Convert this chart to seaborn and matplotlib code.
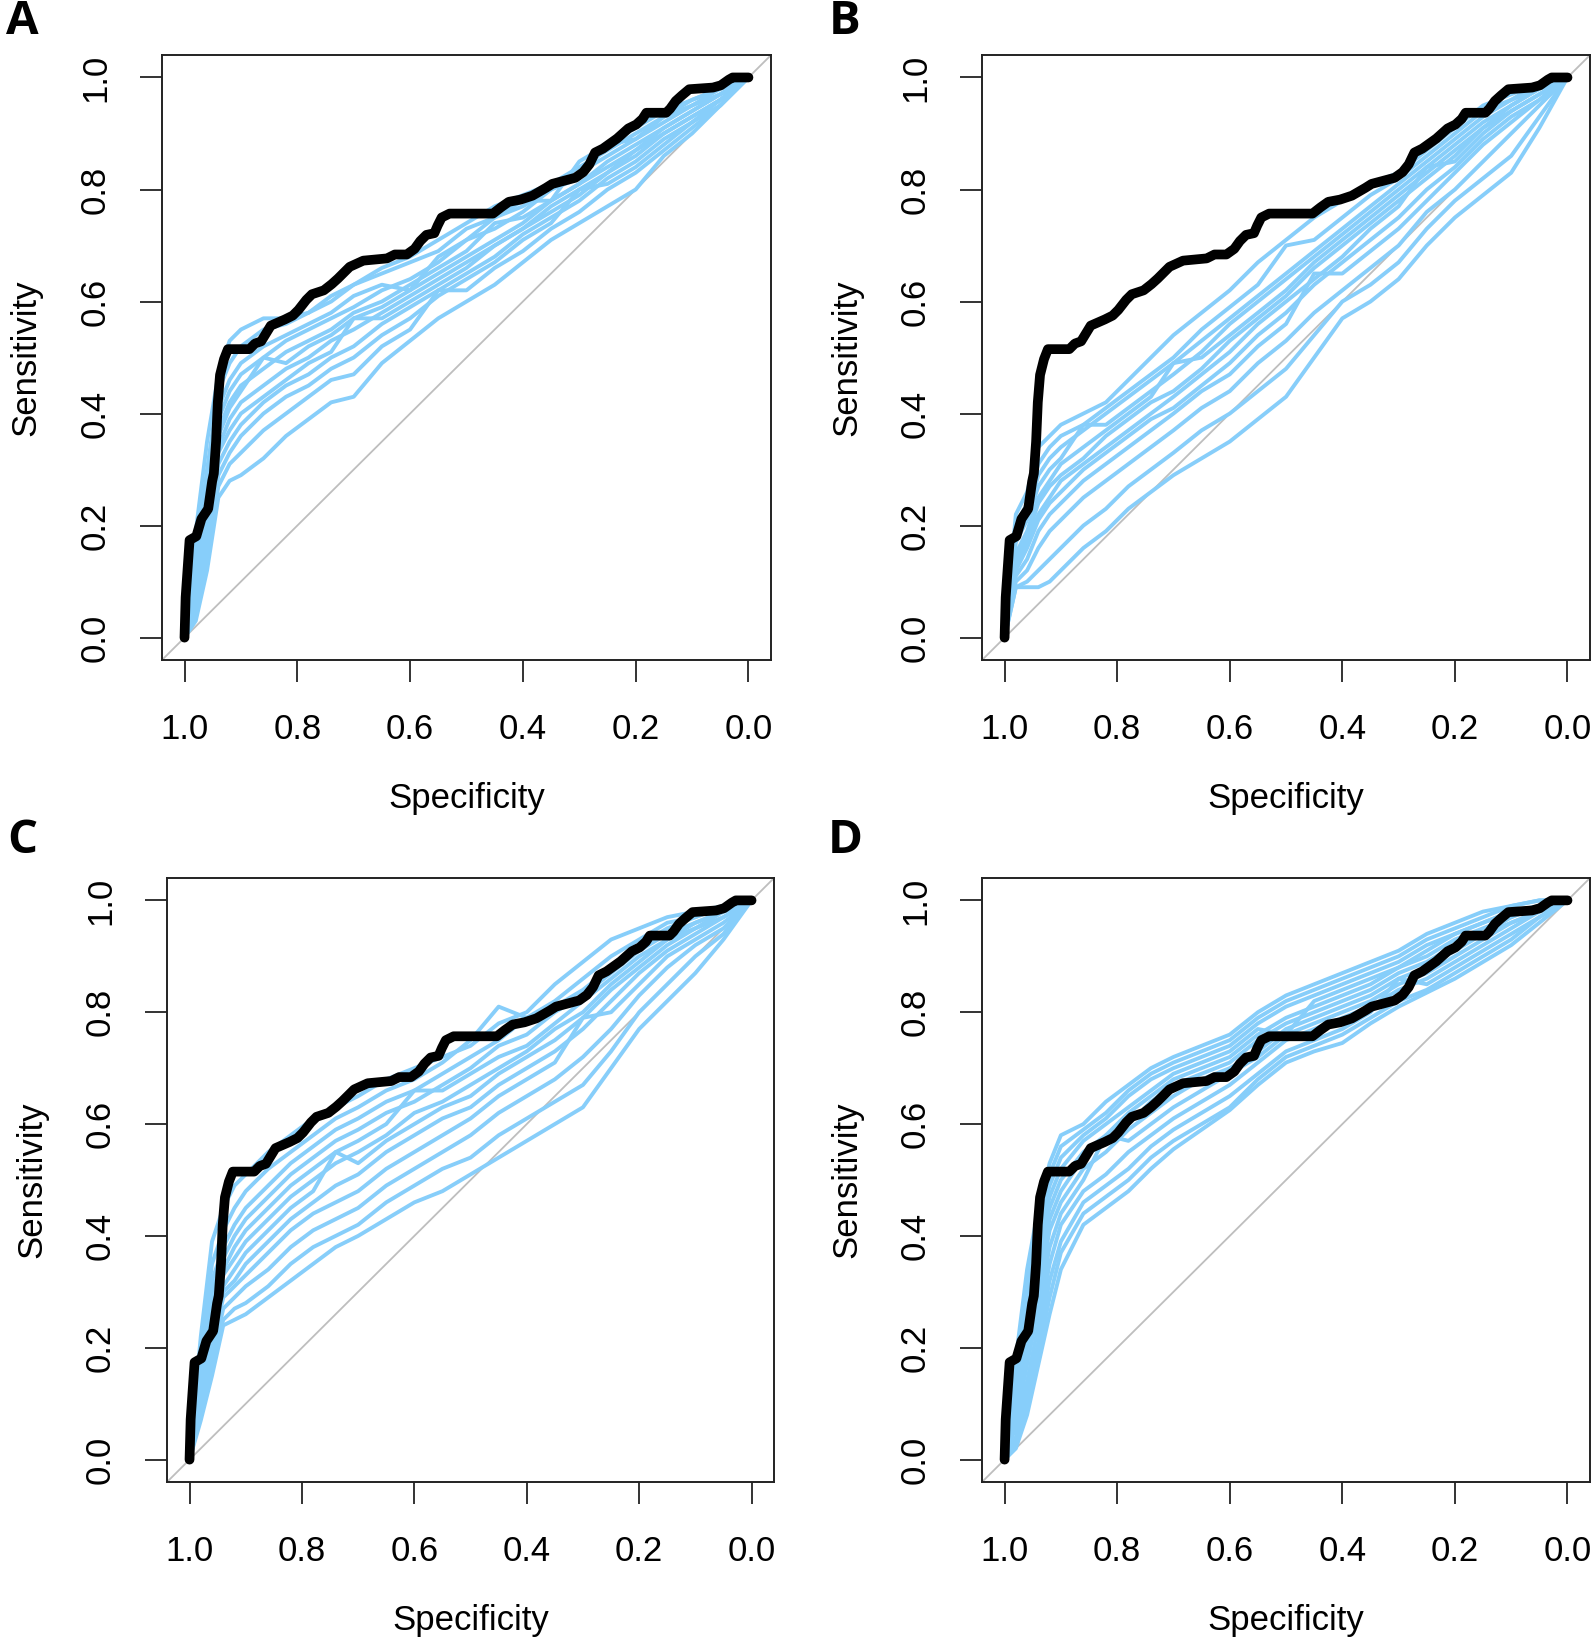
# ROC curves: original model (black) vs. permuted/resampled models (light blue), 4 panels
import numpy as np
import pandas as pd
import seaborn as sns
import matplotlib
matplotlib.use("Agg")
import matplotlib.pyplot as plt

sns.set_style("ticks")
plt.rcParams['font.family'] = ['Liberation Sans', 'DejaVu Sans']
for k in ["text.color", "axes.labelcolor", "xtick.color", "ytick.color"]:
    plt.rcParams[k] = "black"

# ----------------------
# data
# ----------------------
# black curve, same in every panel
orig_spec = [1.0, 0.998, 0.991, 0.979, 0.970, 0.958, 0.951, 0.948, 0.944, 0.941, 0.937, 0.930,
             0.923, 0.885, 0.875, 0.864, 0.847, 0.822, 0.808, 0.798, 0.784, 0.774, 0.753, 0.739,
             0.728, 0.707, 0.683, 0.641, 0.627, 0.606, 0.592, 0.582, 0.571, 0.557, 0.551, 0.544,
             0.530, 0.453, 0.439, 0.425, 0.404, 0.383, 0.359, 0.348, 0.307, 0.293, 0.282, 0.272,
             0.258, 0.233, 0.213, 0.199, 0.188, 0.181, 0.146, 0.139, 0.129, 0.118, 0.105, 0.063,
             0.049, 0.035, 0.028, 0.0]
orig_sens = [0.0, 0.072, 0.174, 0.181, 0.212, 0.230, 0.279, 0.293, 0.350, 0.420, 0.469, 0.497,
             0.515, 0.515, 0.525, 0.529, 0.557, 0.568, 0.575, 0.585, 0.603, 0.613, 0.620, 0.631,
             0.641, 0.662, 0.673, 0.677, 0.684, 0.684, 0.694, 0.708, 0.719, 0.722, 0.736, 0.750,
             0.757, 0.757, 0.768, 0.778, 0.782, 0.789, 0.803, 0.810, 0.821, 0.831, 0.845, 0.866,
             0.873, 0.891, 0.909, 0.916, 0.926, 0.937, 0.937, 0.944, 0.958, 0.968, 0.979, 0.982,
             0.986, 0.996, 1.0, 1.0]

# specificity points at which the blue curves were read
grid_spec = [1.0, .98, .96, .94, .92, .9, .86, .82, .78, .74, .7, .65, .6, .55, .5, .45, .4,
             .35, .3, .25, .2, .15, .1, .05, 0.0]

sens_A = [
    [0, .19, .35, .47, .53, .55, .57, .57, .58, .61, .63, .66, .68, .71, .74, .77, .79, .81, .84, .87, .90, .93, .96, .98, 1],
    [0, .15, .30, .44, .49, .52, .55, .56, .58, .60, .63, .65, .67, .69, .73, .75, .78, .78, .85, .88, .91, .94, .96, .98, 1],
    [0, .12, .27, .41, .46, .49, .52, .54, .56, .58, .61, .63, .62, .68, .71, .75, .77, .80, .83, .86, .89, .92, .95, .98, 1],
    [0, .10, .24, .39, .44, .47, .50, .53, .55, .57, .59, .62, .64, .67, .71, .73, .76, .80, .82, .88, .89, .93, .95, .97, 1],
    [0, .09, .22, .37, .42, .45, .48, .51, .53, .55, .58, .60, .63, .66, .69, .74, .75, .78, .81, .85, .88, .91, .94, .97, 1],
    [0, .08, .20, .36, .41, .44, .50, .49, .52, .54, .57, .59, .62, .65, .68, .71, .74, .78, .81, .84, .87, .91, .94, .97, 1],
    [0, .07, .18, .34, .39, .42, .45, .48, .50, .53, .55, .58, .61, .64, .67, .70, .73, .77, .80, .83, .87, .90, .93, .96, 1],
    [0, .06, .17, .33, .37, .40, .43, .46, .49, .51, .57, .57, .60, .63, .66, .70, .73, .76, .79, .83, .86, .90, .93, .96, 1],
    [0, .05, .16, .31, .35, .38, .42, .45, .47, .50, .52, .56, .59, .62, .65, .68, .72, .75, .78, .82, .85, .89, .92, .96, 1],
    [0, .05, .15, .29, .33, .36, .40, .43, .45, .48, .50, .54, .57, .61, .64, .67, .71, .74, .80, .81, .84, .88, .92, .95, 1],
    [0, .04, .14, .27, .31, .33, .37, .40, .43, .46, .47, .52, .55, .62, .62, .66, .69, .73, .76, .80, .83, .87, .91, .95, 1],
    [0, .03, .12, .25, .28, .29, .32, .36, .39, .42, .43, .49, .53, .57, .60, .63, .67, .71, .74, .77, .80, .86, .90, .95, 1],
]
sens_B = [
    [0, .22, .26, .34, .36, .38, .40, .42, .46, .50, .54, .58, .62, .67, .71, .75, .78, .81, .83, .87, .91, .95, .97, .99, 1],
    [0, .20, .24, .31, .34, .36, .38, .41, .44, .47, .50, .55, .59, .63, .70, .71, .75, .79, .82, .86, .90, .94, .96, .99, 1],
    [0, .18, .22, .29, .32, .34, .37, .40, .43, .46, .49, .53, .57, .61, .65, .69, .73, .77, .81, .85, .89, .93, .96, .98, 1],
    [0, .17, .21, .27, .30, .32, .38, .38, .41, .44, .47, .51, .56, .60, .64, .68, .72, .76, .80, .84, .88, .92, .95, .98, 1],
    [0, .15, .19, .25, .28, .31, .34, .37, .40, .43, .49, .50, .54, .58, .62, .67, .71, .75, .79, .83, .87, .91, .95, .98, 1],
    [0, .14, .18, .24, .27, .29, .32, .36, .39, .42, .44, .48, .53, .57, .61, .66, .70, .74, .78, .82, .86, .91, .94, .97, 1],
    [0, .13, .17, .22, .25, .28, .31, .34, .37, .40, .43, .47, .51, .56, .60, .64, .68, .73, .77, .84, .85, .90, .94, .97, 1],
    [0, .12, .16, .21, .24, .26, .30, .33, .36, .39, .41, .45, .49, .54, .58, .63, .67, .71, .75, .80, .84, .89, .93, .96, 1],
    [0, .11, .14, .19, .22, .24, .28, .31, .34, .37, .40, .44, .47, .52, .56, .65, .65, .69, .73, .78, .83, .88, .92, .96, 1],
    [0, .10, .12, .16, .19, .21, .25, .28, .31, .34, .37, .41, .44, .49, .53, .58, .62, .66, .70, .76, .80, .85, .90, .95, 1],
    [0, .09, .10, .12, .14, .16, .20, .23, .27, .30, .33, .37, .40, .44, .48, .54, .60, .63, .67, .73, .78, .82, .86, .93, 1],
    [0, .09, .09, .09, .10, .12, .16, .19, .23, .26, .29, .32, .35, .39, .43, .50, .57, .60, .64, .70, .75, .79, .83, .91, 1],
]
sens_C = [
    [0, .22, .39, .45, .49, .51, .55, .58, .61, .63, .65, .68, .70, .72, .74, .78, .80, .85, .89, .93, .95, .97, .98, .99, 1],
    [0, .19, .35, .41, .45, .48, .52, .55, .58, .61, .63, .66, .68, .71, .75, .81, .79, .82, .86, .90, .93, .96, .97, .99, 1],
    [0, .17, .32, .38, .42, .45, .49, .53, .56, .59, .61, .64, .66, .69, .72, .75, .79, .81, .84, .88, .92, .95, .97, .99, 1],
    [0, .15, .30, .36, .40, .43, .47, .51, .54, .57, .59, .62, .64, .67, .70, .74, .76, .80, .83, .87, .91, .94, .96, .98, 1],
    [0, .14, .28, .34, .38, .41, .45, .49, .52, .55, .57, .60, .66, .66, .69, .72, .74, .78, .82, .86, .90, .93, .96, .98, 1],
    [0, .13, .26, .33, .36, .39, .43, .47, .50, .53, .55, .58, .62, .64, .67, .70, .73, .77, .80, .85, .89, .93, .95, .98, 1],
    [0, .12, .24, .31, .34, .37, .41, .45, .48, .55, .53, .57, .60, .63, .65, .69, .72, .75, .79, .84, .88, .92, .95, .97, 1],
    [0, .11, .22, .30, .32, .35, .39, .43, .46, .49, .51, .55, .58, .61, .63, .67, .70, .73, .77, .82, .87, .91, .94, .97, 1],
    [0, .10, .20, .29, .31, .33, .37, .41, .44, .46, .48, .52, .55, .58, .61, .65, .68, .71, .79, .80, .85, .90, .93, .96, 1],
    [0, .09, .18, .27, .29, .31, .34, .38, .41, .43, .45, .49, .52, .55, .58, .62, .65, .68, .72, .77, .83, .88, .92, .95, 1],
    [0, .08, .17, .25, .27, .28, .31, .35, .38, .40, .42, .46, .49, .52, .54, .58, .61, .64, .67, .73, .80, .85, .90, .94, 1],
    [0, .07, .15, .24, .25, .26, .29, .32, .35, .38, .40, .43, .46, .48, .51, .54, .57, .60, .63, .70, .77, .82, .87, .93, 1],
]
sens_D = [
    [0, .18, .34, .45, .53, .58, .60, .64, .67, .70, .72, .74, .76, .80, .83, .85, .87, .89, .91, .94, .96, .98, .99, 1, 1],
    [0, .15, .31, .43, .51, .56, .59, .62, .66, .69, .71, .73, .75, .79, .82, .84, .86, .88, .90, .93, .95, .97, .99, 1, 1],
    [0, .13, .29, .41, .49, .54, .58, .61, .65, .68, .70, .72, .74, .78, .81, .83, .85, .87, .89, .92, .94, .96, .98, .99, 1],
    [0, .11, .26, .38, .47, .52, .57, .60, .63, .66, .69, .71, .73, .77, .76, .82, .84, .86, .88, .91, .94, .96, .98, .99, 1],
    [0, .10, .24, .36, .45, .50, .55, .58, .62, .65, .68, .70, .72, .76, .79, .81, .83, .85, .88, .90, .93, .95, .97, .99, 1],
    [0, .09, .22, .33, .43, .48, .54, .57, .60, .64, .67, .69, .71, .75, .78, .80, .82, .84, .87, .89, .92, .94, .97, .99, 1],
    [0, .08, .20, .30, .41, .46, .52, .55, .59, .62, .65, .68, .70, .73, .77, .79, .81, .83, .86, .88, .91, .94, .96, .98, 1],
    [0, .07, .17, .27, .38, .44, .50, .58, .57, .60, .63, .66, .69, .72, .76, .78, .80, .82, .85, .87, .90, .93, .96, .98, 1],
    [0, .06, .14, .24, .35, .42, .48, .51, .55, .58, .61, .64, .67, .71, .75, .77, .79, .81, .84, .86, .89, .92, .95, .98, 1],
    [0, .04, .12, .21, .32, .39, .46, .49, .52, .56, .59, .62, .65, .69, .73, .75, .77, .80, .86, .85, .88, .91, .94, .97, 1],
    [0, .03, .10, .19, .29, .37, .44, .47, .50, .54, .57, .60, .63, .68, .72, .74, .76, .79, .82, .84, .87, .90, .93, .97, 1],
    [0, .02, .08, .17, .26, .34, .42, .45, .48, .52, .555, .59, .625, .67, .71, .73, .745, .78, .81, .835, .86, .89, .92, .96, 1],
]

panel_labels = ["A", "B", "C", "D"]
panel_sens = [sens_A, sens_B, sens_C, sens_D]

rects = [(0.1016, 0.5973, 0.3821, 0.3691),
         (0.6161, 0.5973, 0.3814, 0.3691),
         (0.1048, 0.0958, 0.3808, 0.3685),
         (0.6161, 0.0958, 0.3814, 0.3685)]
letter_pos = [(0.014, 0.987), (0.530, 0.987), (0.014, 0.487), (0.530, 0.487)]

BLUE = "#87CEFA"
ticks = [0.0, 0.2, 0.4, 0.6, 0.8, 1.0]

fig = plt.figure(figsize=(15.94, 16.39), dpi=100)

for lab, sens_list, rect, lpos in zip(panel_labels, panel_sens, rects, letter_pos):
    ax = fig.add_axes(rect)
    rows = []
    for i, s in enumerate(sens_list):
        assert len(s) == len(grid_spec), (lab, i)
        for sp, se in zip(grid_spec, s):
            rows.append({"spec": sp, "sens": se, "run": i})
    df = pd.DataFrame(rows)

    # identity line corner to corner
    ax.plot([1.04, -0.04], [-0.04, 1.04], color="#BEBEBE", lw=1.3, zorder=1)
    sns.lineplot(data=df, x="spec", y="sens", units="run", estimator=None, sort=False,
                 color=BLUE, lw=2.8, ax=ax, zorder=2)
    sns.lineplot(x=orig_spec, y=orig_sens, sort=False, estimator=None, color="black",
                 lw=7, ax=ax, zorder=3, solid_capstyle="round", solid_joinstyle="round")

    ax.set_xlim(1.04, -0.04)
    ax.set_ylim(-0.04, 1.04)
    ax.set_xticks(ticks)
    ax.set_yticks(ticks)
    ax.set_xticklabels([f"{t:.1f}" for t in ticks])
    ax.set_yticklabels([f"{t:.1f}" for t in ticks])
    ax.tick_params(axis="both", direction="out", length=16, width=1.4, labelsize=25,
                   color="#333333")
    ax.tick_params(axis="x", pad=22)
    ax.tick_params(axis="y", pad=20, labelrotation=90)
    for t in ax.get_yticklabels():
        t.set_va("center")
    for sp in ax.spines.values():
        sp.set_visible(True)
        sp.set_linewidth(1.4)
        sp.set_color("#222222")
    ax.set_xlabel("Specificity", fontsize=25, labelpad=26)
    ax.set_ylabel("Sensitivity", fontsize=25, labelpad=26)

    fig.text(lpos[0], lpos[1], lab, fontsize=34, fontweight="bold",
             family=["Open Sans", "DejaVu Sans"], ha="center", va="center")

plt.savefig("out.png", dpi=100)
